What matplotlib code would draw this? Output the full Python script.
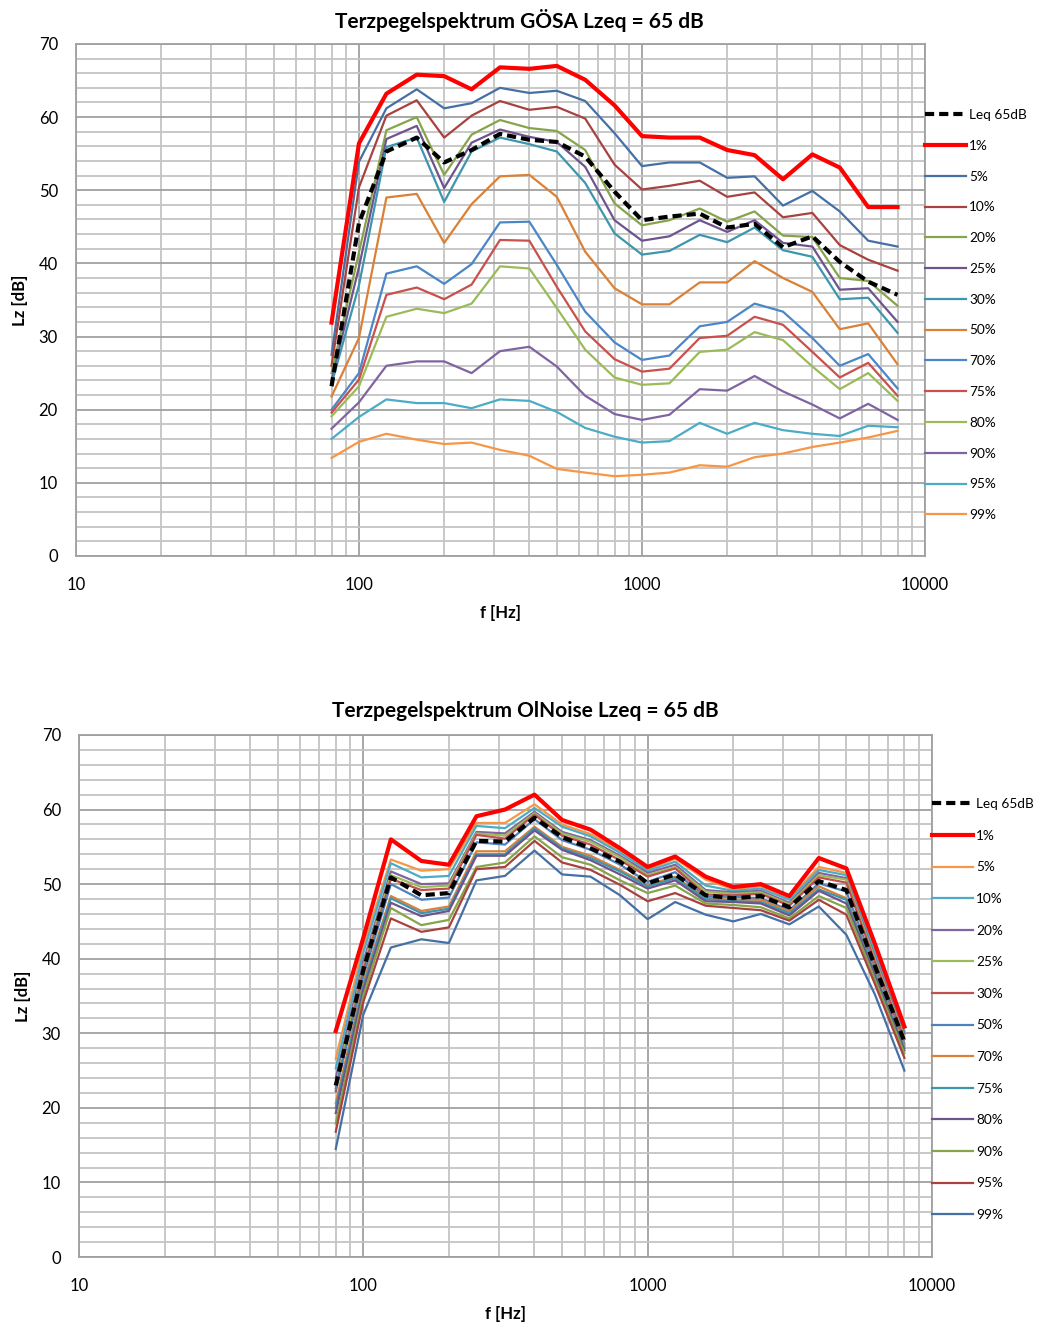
import matplotlib
matplotlib.use("Agg")
import matplotlib.pyplot as plt
from matplotlib.ticker import FixedLocator, NullFormatter

plt.rcParams["font.family"] = ["Lato", "DejaVu Sans"]

# third-octave band centre frequencies in Hz
freqs = [80, 100, 125, 160, 200, 250, 315, 400, 500, 630, 800,
         1000, 1250, 1600, 2000, 2500, 3150, 4000, 5000, 6300, 8000]

# GÖSA: percentile levels per band, dB
g_leq = [23.2, 45.5, 55.3, 57.2, 53.8, 55.5, 57.7, 56.9, 56.6, 54.6, 49.8,
         45.9, 46.4, 46.8, 44.9, 45.4, 42.2, 43.7, 40.2, 37.5, 35.7]
g_1 = [31.9, 56.4, 63.2, 65.8, 65.6, 63.8, 66.8, 66.6, 67.0, 65.1, 61.6,
       57.4, 57.2, 57.2, 55.5, 54.8, 51.5, 54.9, 53.1, 47.7, 47.7]
g_5 = [27.5, 53.9, 61.2, 63.8, 61.2, 61.9, 64.0, 63.3, 63.6, 62.2, 57.8,
       53.3, 53.8, 53.8, 51.7, 51.9, 47.9, 49.9, 47.1, 43.1, 42.3]
g_10 = [26.0, 50.4, 60.2, 62.3, 57.2, 60.2, 62.2, 61.0, 61.4, 59.8, 53.5,
        50.1, 50.6, 51.3, 49.1, 49.7, 46.3, 46.9, 42.5, 40.5, 39.0]
g_20 = [25.0, 41.5, 58.2, 60.0, 52.1, 57.6, 59.6, 58.5, 58.1, 55.5, 48.2,
        45.2, 45.9, 47.5, 45.7, 47.1, 43.8, 43.6, 38.0, 37.6, 34.2]
g_25 = [24.0, 39.5, 57.0, 58.8, 50.3, 56.5, 58.3, 57.3, 56.6, 53.2, 45.9,
        43.1, 43.7, 45.9, 44.3, 45.9, 42.8, 42.3, 36.4, 36.6, 32.0]
g_30 = [23.5, 37.0, 55.9, 57.2, 48.4, 55.3, 57.2, 56.3, 55.3, 51.0, 44.1,
        41.2, 41.7, 43.9, 42.9, 44.9, 41.8, 40.9, 35.1, 35.3, 30.5]
g_50 = [21.8, 29.8, 49.0, 49.5, 42.8, 48.1, 51.9, 52.1, 49.1, 41.6, 36.6,
        34.4, 34.4, 37.4, 37.4, 40.3, 38.0, 36.1, 31.0, 31.8, 26.2]
g_70 = [20.0, 25.0, 38.6, 39.6, 37.2, 39.9, 45.6, 45.7, 39.8, 33.4, 29.2,
        26.8, 27.4, 31.4, 32.0, 34.5, 33.4, 29.8, 26.0, 27.6, 22.9]
g_75 = [19.6, 24.1, 35.7, 36.7, 35.1, 37.1, 43.2, 43.1, 36.8, 30.7, 26.9,
        25.2, 25.6, 29.8, 30.1, 32.7, 31.6, 27.9, 24.4, 26.4, 21.9]
g_80 = [19.1, 23.2, 32.7, 33.8, 33.2, 34.5, 39.6, 39.3, 33.9, 28.2, 24.4,
        23.4, 23.6, 27.9, 28.2, 30.6, 29.5, 25.9, 22.8, 25.0, 21.2]
g_90 = [17.4, 21.0, 26.0, 26.6, 26.6, 25.0, 28.0, 28.6, 25.9, 21.9, 19.4,
        18.6, 19.3, 22.8, 22.6, 24.6, 22.5, 20.7, 18.8, 20.8, 18.6]
g_95 = [16.0, 19.0, 21.4, 20.9, 20.9, 20.2, 21.4, 21.2, 19.7, 17.5, 16.3,
        15.5, 15.7, 18.2, 16.7, 18.2, 17.2, 16.7, 16.4, 17.8, 17.6]
g_99 = [13.4, 15.6, 16.7, 15.9, 15.3, 15.5, 14.5, 13.7, 11.9, 11.4, 10.9,
        11.1, 11.4, 12.4, 12.2, 13.5, 14.0, 14.9, 15.5, 16.2, 17.1]

# OlNoise: percentile levels per band, dB
o_leq = [23.0, 38.5, 50.9, 48.5, 48.8, 55.8, 55.7, 58.9, 56.3, 54.8, 53.0,
         50.1, 51.3, 48.5, 48.1, 48.4, 46.9, 50.4, 49.2, 39.0, 28.9]
o_1 = [30.3, 42.8, 56.0, 53.1, 52.6, 59.1, 60.0, 62.0, 58.6, 57.3, 54.8,
       52.3, 53.7, 51.0, 49.6, 50.0, 48.4, 53.5, 52.1, 42.0, 30.9]
o_5 = [26.6, 41.6, 53.3, 51.8, 52.0, 58.2, 58.2, 60.7, 58.0, 56.7, 54.5,
       52.0, 53.4, 50.6, 49.3, 49.7, 48.1, 52.3, 51.5, 41.3, 30.8]
o_10 = [25.3, 40.8, 52.8, 50.9, 51.1, 57.8, 57.5, 60.2, 57.7, 56.4, 54.2,
        51.8, 53.0, 49.8, 49.1, 49.4, 47.9, 51.9, 51.2, 40.8, 30.3]
o_20 = [24.0, 39.6, 51.7, 50.0, 50.1, 57.0, 56.8, 59.7, 57.0, 55.9, 53.8,
        51.5, 52.6, 49.2, 48.9, 49.1, 47.5, 51.5, 50.8, 40.2, 29.9]
o_25 = [23.0, 39.0, 51.2, 49.6, 49.8, 56.8, 56.5, 59.5, 56.8, 55.7, 53.6,
        51.2, 52.3, 49.0, 48.7, 48.9, 47.3, 51.2, 50.6, 39.9, 29.5]
o_30 = [22.2, 38.4, 50.7, 49.2, 49.4, 56.6, 56.1, 59.3, 56.5, 55.3, 53.2,
        51.0, 52.1, 48.6, 48.5, 48.7, 47.1, 50.9, 50.2, 39.6, 29.2]
o_50 = [22.6, 37.6, 50.0, 47.9, 48.2, 55.6, 55.3, 58.7, 55.9, 54.6, 52.6,
        50.3, 51.6, 48.3, 48.3, 48.1, 46.5, 50.1, 49.0, 38.8, 28.6]
o_70 = [20.6, 36.8, 48.4, 46.4, 47.0, 54.4, 54.4, 57.7, 55.0, 53.8, 51.9,
        49.9, 51.0, 48.1, 47.9, 47.9, 46.3, 49.7, 48.1, 38.3, 28.3]
o_75 = [20.0, 36.3, 48.1, 46.1, 46.7, 54.0, 54.0, 57.5, 54.8, 53.5, 51.7,
        49.7, 50.8, 48.0, 47.7, 47.6, 46.1, 49.3, 47.9, 38.0, 28.0]
o_80 = [19.3, 35.8, 47.5, 45.7, 46.4, 53.8, 53.8, 57.2, 54.6, 53.2, 51.3,
        49.4, 50.5, 47.7, 47.6, 47.4, 45.8, 49.1, 47.4, 37.7, 27.7]
o_90 = [17.9, 35.0, 46.8, 44.5, 45.2, 52.3, 52.9, 56.4, 53.6, 52.6, 50.5,
        48.8, 49.8, 47.4, 47.2, 46.9, 45.4, 48.4, 46.8, 37.2, 27.3]
o_95 = [16.8, 34.2, 45.4, 43.6, 44.2, 52.0, 52.3, 55.8, 52.9, 51.9, 49.9,
        47.7, 48.8, 47.1, 46.8, 46.5, 45.1, 47.9, 45.9, 36.6, 26.7]
o_99 = [14.5, 32.5, 41.5, 42.6, 42.1, 50.5, 51.1, 54.5, 51.3, 51.0, 48.5,
        45.3, 47.6, 45.9, 45.0, 46.0, 44.6, 47.0, 43.2, 35.2, 25.0]

pct_labels = ["1%", "5%", "10%", "20%", "25%", "30%", "50%",
              "70%", "75%", "80%", "90%", "95%", "99%"]

gosa_series = [g_1, g_5, g_10, g_20, g_25, g_30, g_50,
               g_70, g_75, g_80, g_90, g_95, g_99]
gosa_colors = ["#FF0000", "#4470A6", "#A8423F", "#86A44A", "#6E548D", "#3D96AE",
               "#DA8137", "#4A86C8", "#C8504D", "#9BBB59", "#8064A2", "#4BACC6", "#F79646"]

olnoise_series = [o_1, o_5, o_10, o_20, o_25, o_30, o_50,
                  o_70, o_75, o_80, o_90, o_95, o_99]
olnoise_colors = ["#FF0000", "#F79646", "#4BACC6", "#8064A2", "#9BBB59", "#C0504D",
                  "#4F81BD", "#DA8137", "#3D96AE", "#6E548D", "#86A44A", "#A8423F", "#4470A6"]


def draw_panel(ax, title, leq, series, colors, title_x, title_pad, leg_y, leg_space):
    ax.set_xscale("log")
    ax.set_xlim(10, 10000)
    ax.set_ylim(0, 70)

    # grid: light minor lines, slightly darker at decades / every 10 dB
    ax.xaxis.set_major_locator(FixedLocator([10, 100, 1000, 10000]))
    ax.xaxis.set_minor_locator(FixedLocator(
        [m * d for d in (10, 100, 1000) for m in range(2, 10)]))
    ax.xaxis.set_minor_formatter(NullFormatter())
    ax.set_xticks([10, 100, 1000, 10000], ["10", "100", "1000", "10000"])
    ax.set_yticks(range(0, 71, 10))
    ax.set_yticks(range(0, 71, 2), minor=True)
    ax.grid(which="minor", color="#C4C4C4", lw=1.3)
    ax.grid(which="major", color="#A0A0A0", lw=1.3)
    ax.set_axisbelow(True)
    for s in ax.spines.values():
        s.set_color("#A0A0A0")
        s.set_linewidth(1.3)
    ax.tick_params(which="both", length=0, labelsize=12)
    ax.tick_params(axis="x", pad=15)
    ax.tick_params(axis="y", pad=13)

    ax.plot(freqs, leq, color="black", lw=3, ls=(0, (2.2, 1.2)),
            label="Leq 65dB", zorder=5)
    for vals, lab, col in zip(series, pct_labels, colors):
        lw = 3 if lab == "1%" else 1.6
        ax.plot(freqs, vals, color=col, lw=lw, label=lab,
                zorder=4 if lab == "1%" else 3)

    handles, labels = ax.get_legend_handles_labels()
    ax.legend(handles, labels, loc="upper left", bbox_to_anchor=(1.0, leg_y),
              frameon=False, fontsize=9.8, handlelength=3.0, handletextpad=0.25,
              labelspacing=leg_space, borderaxespad=0, borderpad=0)

    ax.set_title(title, fontsize=15, fontweight="bold", pad=title_pad, x=title_x)
    ax.set_xlabel("f [Hz]", fontsize=12, fontweight="bold", labelpad=9)
    ax.set_ylabel("Lz [dB]", fontsize=12, fontweight="bold", labelpad=8)


fig = plt.figure(figsize=(10.42, 13.24), dpi=100)
ax1 = fig.add_axes([0.0729, 0.5801, 0.8148, 0.3867])
ax2 = fig.add_axes([0.0758, 0.0506, 0.8186, 0.3943])

draw_panel(ax1, "Terzpegelspektrum GÖSA Lzeq = 65 dB", g_leq, gosa_series,
           gosa_colors, 0.522, 11.5, 0.873, 1.38)
draw_panel(ax2, "Terzpegelspektrum OlNoise Lzeq = 65 dB", o_leq, olnoise_series,
           olnoise_colors, 0.523, 12.8, 0.879, 1.44)

fig.savefig("out.png", dpi=100)
